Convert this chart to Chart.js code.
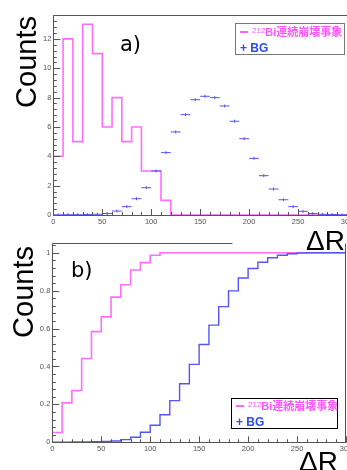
<!DOCTYPE html>
<html><head><meta charset="utf-8">
<script src="https://cdn.jsdelivr.net/npm/chart.js@4.4.1/dist/chart.umd.min.js"></script>
<style>
html,body{margin:0;padding:0;background:#fff;}
body{width:347px;height:470px;overflow:hidden;position:relative;font-family:"Liberation Sans",Arial,sans-serif;}
.pane{position:absolute;left:0;width:347px;}
.lbl{position:absolute;white-space:nowrap;line-height:1;color:#000;}
.counts{font-size:29px;transform:translate(-50%,-50%) rotate(-90deg);}
.tag{font-family:"DejaVu Sans",sans-serif;font-size:21px;}
.dr{font-size:28px;}
.legend{position:absolute;background:#fff;box-sizing:border-box;}
.row{position:absolute;left:4px;white-space:nowrap;font-weight:bold;line-height:1;}
.sig{color:#ff55ff;font-size:11px;}
.sig .sup{font-size:8px;position:relative;top:-3px;font-weight:normal;}
.cjk{font-family:"Noto Sans CJK JP",sans-serif;}
.bg{color:#2a4cff;font-size:12px;}
.dash{display:inline-block;width:8px;height:2px;background:#ff66ff;vertical-align:middle;margin-right:4px;position:relative;top:-1px;}
</style></head>
<body>
<div class="pane" style="top:0;height:232px;"><canvas id="ca"></canvas></div>
<div class="pane" style="top:232px;height:238px;"><canvas id="cb"></canvas></div>

<div class="lbl counts" style="left:26px;top:62px;">Counts</div>
<div class="lbl counts" style="left:22.5px;top:292px;">Counts</div>
<div class="lbl tag" style="left:120px;top:34px;">a)</div>
<div class="lbl tag" style="left:71px;top:260px;">b)</div>
<div class="lbl dr" style="left:306px;top:227px;">ΔR</div>
<div class="lbl dr" style="left:299px;top:448px;">ΔR</div>

<div class="legend" style="left:235px;top:23px;width:110px;height:32px;border:1px solid #777;">
  <div class="row sig" style="top:2px;"><span class="dash"></span><span class="sup">212</span>Bi<span class="cjk">連続崩壊事象</span></div>
  <div class="row bg" style="top:18px;">+ BG</div>
</div>
<div class="legend" style="left:231px;top:398px;width:107px;height:31px;border:1.5px solid #000;">
  <div class="row sig" style="top:1px;"><span class="dash"></span><span class="sup">212</span>Bi<span class="cjk">連続崩壊事象</span></div>
  <div class="row bg" style="top:17px;">+ BG</div>
</div>

<script>
// ---- data ----
const binEdges = [0,10,20,30,40,50,60,70,80,90,100,110,120,130,140,150,160,170,180,190,200,210,220,230,240,250,260,270,280,290,300];
const sigCounts = [4,12,5,13,11,6,8,5,6,3,3,1,0,0,0,0,0,0,0,0,0,0,0,0,0,0,0,0,0,0];
const bgCounts = [0.01,0.02,0.02,0.03,0.05,0.1,0.27,0.57,1.11,1.86,3.0,4.25,5.66,6.84,7.86,8.09,8.0,7.43,6.39,5.2,3.86,2.68,1.77,1.04,0.57,0.25,0.1,0.05,0.03,0.01];
const sigCumulative = [0.052,0.208,0.273,0.442,0.584,0.662,0.766,0.831,0.909,0.948,0.987,1,1,1,1,1,1,1,1,1,1,1,1,1,1,1,1,1,1,1];
const bgCumulative = [0.001,0.001,0.002,0.002,0.003,0.004,0.007,0.014,0.027,0.053,0.09,0.145,0.22,0.309,0.411,0.516,0.618,0.716,0.799,0.867,0.917,0.95,0.974,0.987,0.995,0.999,1,1,1,1];
const xTickValues = [0,50,100,150,200,250,300];
const yTickValuesA = [0,2,4,6,8,10,12];
const yTickValuesB = [0,0.2,0.4,0.6,0.8,1];

const MAG = 'rgb(255,110,255)';
const BLUE = 'rgb(85,85,245)';

function histPoints(vals){
  const pts = vals.map((v,i)=>({x:binEdges[i], y:v}));
  pts.push({x:binEdges[vals.length], y:vals[vals.length-1]});
  return pts;
}
function centerPoints(vals){
  return vals.map((v,i)=>({x:(binEdges[i]+binEdges[i+1])/2, y:v}));
}

const rootFrame = {
  id:'rootFrame',
  afterDatasetsDraw(chart, args, o){
    const {ctx, chartArea:a, scales:{x,y}} = chart;
    ctx.save();
    ctx.strokeStyle = '#555'; ctx.lineWidth = 1;
    ctx.beginPath();
    const nx = Math.round((x.max - x.min)/o.xMinor);
    for (let i=0;i<=nx;i++){
      const v = x.min + i*o.xMinor;
      const px = Math.round(x.getPixelForValue(v)) + 0.5;
      const r = v/o.xMajor;
      const len = Math.abs(r - Math.round(r)) < 1e-6 ? 6 : 3;
      ctx.moveTo(px, a.bottom); ctx.lineTo(px, a.bottom - len);
    }
    const ny = Math.floor((y.max - y.min)/o.yMinor + 1e-6);
    for (let i=0;i<=ny;i++){
      const v = y.min + i*o.yMinor;
      const py = Math.round(y.getPixelForValue(v)) + 0.5;
      const r = v/o.yMajor;
      const len = Math.abs(r - Math.round(r)) < 1e-6 ? 7 : 3.5;
      ctx.moveTo(a.left, py); ctx.lineTo(a.left + len, py);
    }
    ctx.stroke();
    ctx.beginPath();
    const L = Math.round(a.left)+0.5, B = Math.round(a.bottom)+0.5, T = Math.round(a.top)+0.5, R = Math.round(a.right)-0.5;
    ctx.moveTo(L, T); ctx.lineTo(L, B); ctx.lineTo(R + 1, B);
    ctx.moveTo(L, T); ctx.lineTo(o.topTo != null ? x.getPixelForValue(o.topTo) : R + 1, T);
    if (o.right){ ctx.moveTo(R, T); ctx.lineTo(R, B); }
    ctx.stroke();
    ctx.restore();
  }
};

const zeroPad = ()=>({left:0, right:0, top:0, bottom:0});

function makeChart(id, datasets, yMax, yTicks, fmt, pad, yWidth, frameOpts){
  return new Chart(document.getElementById(id), {
    type:'line',
    data:{datasets},
    plugins:[rootFrame],
    options:{
      responsive:true, maintainAspectRatio:false, animation:false, devicePixelRatio:1,
      events:[],
      layout:{padding:pad, autoPadding:false},
      plugins:{legend:{display:false}, tooltip:{enabled:false}, rootFrame:frameOpts},
      scales:{
        x:{type:'linear', min:0, max:300,
          grid:{display:false, drawTicks:false}, border:{display:false},
          afterBuildTicks:s=>{ s.ticks = xTickValues.map(v=>({value:v})); },
          afterFit:s=>{ s.height = 17; s.paddingLeft = 0; s.paddingRight = 0; s.getPadding = zeroPad; },
          ticks:{autoSkip:false, maxRotation:0, padding:2, color:'#555', font:{family:'Liberation Sans', size:7.5}}
        },
        y:{type:'linear', min:0, max:yMax,
          grid:{display:false, drawTicks:false}, border:{display:false},
          afterBuildTicks:s=>{ s.ticks = yTicks.map(v=>({value:v})); },
          afterFit:s=>{ s.width = yWidth; s.paddingTop = 0; s.paddingBottom = 0; s.getPadding = zeroPad; },
          ticks:{padding:2, color:'#555', font:{family:'Liberation Sans', size:7.5}, callback:fmt}
        }
      }
    }
  });
}

makeChart('ca', [
  {data:histPoints(sigCounts), stepped:'before', borderColor:MAG, borderWidth:1.6, pointRadius:0, fill:false, order:3},
  {data:centerPoints(bgCounts), showLine:false, pointStyle:'line', pointRadius:4.9, pointBorderColor:BLUE, pointBorderWidth:1, order:1},
  {data:centerPoints(bgCounts), showLine:false, pointStyle:'line', rotation:90, pointRadius:1.5, pointBorderColor:BLUE, pointBorderWidth:1, order:2}
], 13.65, yTickValuesA, v=>String(v), {top:14.7, left:0, right:0, bottom:0}, 53.3, {xMinor:10, xMajor:50, yMinor:0.4, yMajor:2, right:false});

makeChart('cb', [
  {data:histPoints(sigCumulative), stepped:'before', borderColor:MAG, borderWidth:1.6, pointRadius:0, fill:false, order:2},
  {data:histPoints(bgCumulative), stepped:'before', borderColor:BLUE, borderWidth:1.4, pointRadius:0, fill:false, order:1}
], 1.05, yTickValuesB, v=>String(+v.toFixed(2)), {top:11.3, left:0, right:1, bottom:10.7}, 52.3, {xMinor:10, xMajor:50, yMinor:0.04, yMajor:0.2, right:true, topTo:184});
</script>
</body></html>
